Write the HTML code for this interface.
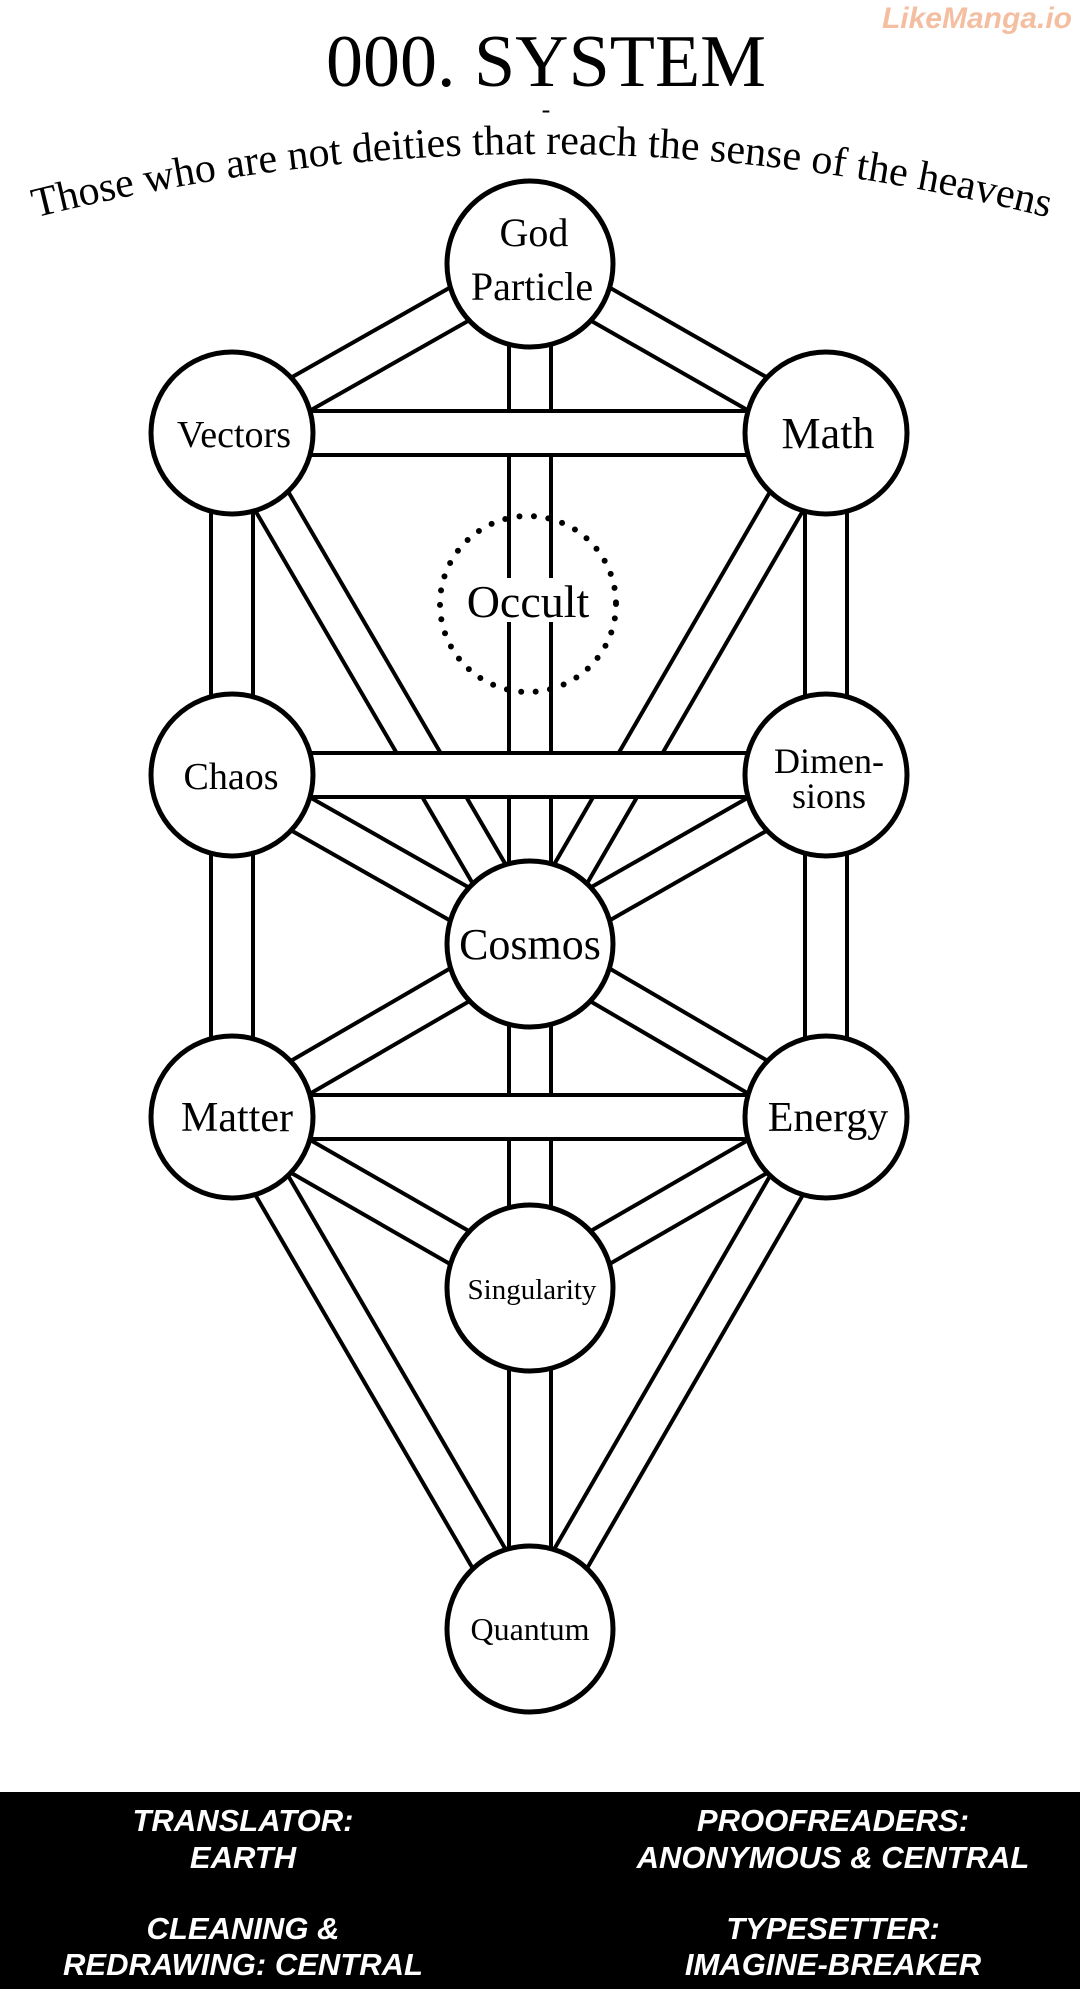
<!DOCTYPE html>
<html><head><meta charset="utf-8"><style>
html,body{margin:0;padding:0;background:#fff;}
svg{display:block;}
</style></head><body>
<svg width="1080" height="1989" viewBox="0 0 1080 1989" xmlns="http://www.w3.org/2000/svg">
<rect width="1080" height="1989" fill="#fff"/>
<text x="1072" y="28" text-anchor="end" font-family="Liberation Sans, sans-serif" font-weight="bold" font-style="italic" font-size="30" fill="#f2b08a" opacity="0.8">LikeManga.io</text>
<text x="546" y="86" text-anchor="middle" font-family="Liberation Serif, serif" font-size="74" fill="#000">000. SYSTEM</text>
<text x="546" y="118" text-anchor="middle" font-family="Liberation Serif, serif" font-size="26" fill="#000">-</text>
<path id="arc" d="M 10 224 Q 542 84 1074 224" fill="none"/>
<text font-family="Liberation Serif, serif" font-size="42" fill="#000"><textPath href="#arc" startOffset="50%" text-anchor="middle">Those who are not deities that reach the sense of the heavens</textPath></text>
<g>
<line x1="530" y1="264" x2="232" y2="433" stroke="#000" stroke-width="42"/><line x1="530" y1="264" x2="232" y2="433" stroke="#fff" stroke-width="34"/>
<line x1="530" y1="264" x2="826" y2="433" stroke="#000" stroke-width="42"/><line x1="530" y1="264" x2="826" y2="433" stroke="#fff" stroke-width="34"/>
<line x1="232" y1="433" x2="530" y2="944" stroke="#000" stroke-width="42"/><line x1="232" y1="433" x2="530" y2="944" stroke="#fff" stroke-width="34"/>
<line x1="826" y1="433" x2="530" y2="944" stroke="#000" stroke-width="42"/><line x1="826" y1="433" x2="530" y2="944" stroke="#fff" stroke-width="34"/>
<line x1="232" y1="775" x2="530" y2="944" stroke="#000" stroke-width="42"/><line x1="232" y1="775" x2="530" y2="944" stroke="#fff" stroke-width="34"/>
<line x1="826" y1="775" x2="530" y2="944" stroke="#000" stroke-width="42"/><line x1="826" y1="775" x2="530" y2="944" stroke="#fff" stroke-width="34"/>
<line x1="232" y1="1117" x2="530" y2="944" stroke="#000" stroke-width="42"/><line x1="232" y1="1117" x2="530" y2="944" stroke="#fff" stroke-width="34"/>
<line x1="826" y1="1117" x2="530" y2="944" stroke="#000" stroke-width="42"/><line x1="826" y1="1117" x2="530" y2="944" stroke="#fff" stroke-width="34"/>
<line x1="232" y1="1117" x2="530" y2="1288" stroke="#000" stroke-width="42"/><line x1="232" y1="1117" x2="530" y2="1288" stroke="#fff" stroke-width="34"/>
<line x1="826" y1="1117" x2="530" y2="1288" stroke="#000" stroke-width="42"/><line x1="826" y1="1117" x2="530" y2="1288" stroke="#fff" stroke-width="34"/>
<line x1="232" y1="1117" x2="530" y2="1629" stroke="#000" stroke-width="42"/><line x1="232" y1="1117" x2="530" y2="1629" stroke="#fff" stroke-width="34"/>
<line x1="826" y1="1117" x2="530" y2="1629" stroke="#000" stroke-width="42"/><line x1="826" y1="1117" x2="530" y2="1629" stroke="#fff" stroke-width="34"/>
<line x1="530" y1="264" x2="530" y2="944" stroke="#000" stroke-width="46"/><line x1="530" y1="264" x2="530" y2="944" stroke="#fff" stroke-width="38"/>
<line x1="530" y1="944" x2="530" y2="1629" stroke="#000" stroke-width="46"/><line x1="530" y1="944" x2="530" y2="1629" stroke="#fff" stroke-width="38"/>
<line x1="232" y1="433" x2="232" y2="1117" stroke="#000" stroke-width="46"/><line x1="232" y1="433" x2="232" y2="1117" stroke="#fff" stroke-width="38"/>
<line x1="826" y1="433" x2="826" y2="1117" stroke="#000" stroke-width="46"/><line x1="826" y1="433" x2="826" y2="1117" stroke="#fff" stroke-width="38"/>
<line x1="232" y1="433" x2="826" y2="433" stroke="#000" stroke-width="48"/><line x1="232" y1="433" x2="826" y2="433" stroke="#fff" stroke-width="40"/>
<line x1="232" y1="775" x2="826" y2="775" stroke="#000" stroke-width="48"/><line x1="232" y1="775" x2="826" y2="775" stroke="#fff" stroke-width="40"/>
<line x1="232" y1="1117" x2="826" y2="1117" stroke="#000" stroke-width="48"/><line x1="232" y1="1117" x2="826" y2="1117" stroke="#fff" stroke-width="40"/>
</g>
<circle cx="528" cy="604" r="88" fill="none" stroke="#000" stroke-width="6" stroke-dasharray="0 14.5" stroke-linecap="round"/>
<g fill="#fff" stroke="#000" stroke-width="5">
<circle cx="530" cy="264" r="83"/>
<circle cx="232" cy="433" r="81"/>
<circle cx="826" cy="433" r="81"/>
<circle cx="232" cy="775" r="81"/>
<circle cx="826" cy="775" r="81"/>
<circle cx="530" cy="944" r="83"/>
<circle cx="232" cy="1117" r="81"/>
<circle cx="826" cy="1117" r="81"/>
<circle cx="530" cy="1288" r="83"/>
<circle cx="530" cy="1629" r="83"/>
</g>
<g font-family="Liberation Serif, serif" fill="#000" text-anchor="middle">
<rect x="462" y="578" width="130" height="44" fill="#fff"/>
<text x="528" y="617" font-size="46">Occult</text>
<text x="534" y="246" font-size="40">God</text>
<text x="532" y="300" font-size="40">Particle</text>
<text x="234" y="447" font-size="38">Vectors</text>
<text x="828" y="448" font-size="44">Math</text>
<text x="231" y="789" font-size="38">Chaos</text>
<text x="829" y="773" font-size="36">Dimen-</text>
<text x="829" y="808" font-size="36">sions</text>
<text x="530" y="959" font-size="44">Cosmos</text>
<text x="237" y="1131" font-size="42">Matter</text>
<text x="828" y="1131" font-size="42">Energy</text>
<text x="532" y="1299" font-size="29">Singularity</text>
<text x="530" y="1640" font-size="32">Quantum</text>
</g>
<rect x="0" y="1792" width="1080" height="197" fill="#000"/>
<g font-family="Liberation Sans, sans-serif" font-weight="bold" font-style="italic" font-size="31" fill="#fff" text-anchor="middle">
<text x="243" y="1831">TRANSLATOR:</text>
<text x="243" y="1868">EARTH</text>
<text x="243" y="1939">CLEANING &amp;</text>
<text x="243" y="1975">REDRAWING: CENTRAL</text>
<text x="833" y="1831">PROOFREADERS:</text>
<text x="833" y="1868">ANONYMOUS &amp; CENTRAL</text>
<text x="833" y="1939">TYPESETTER:</text>
<text x="833" y="1975">IMAGINE-BREAKER</text>
</g>
</svg>
</body></html>
